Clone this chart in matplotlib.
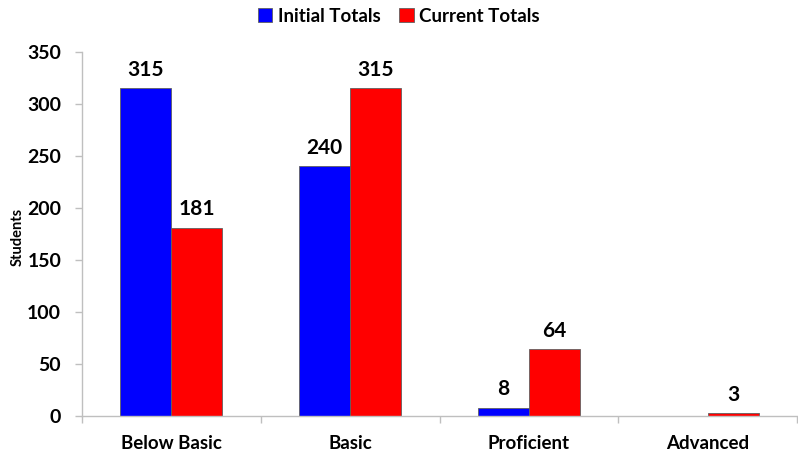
import matplotlib
matplotlib.use("Agg")
import matplotlib.pyplot as plt
import numpy as np

categories = ["Below Basic", "Basic", "Proficient", "Advanced"]
initial_totals = [315, 240, 8, 0]
current_totals = [181, 315, 64, 3]
y_ticks = [0, 50, 100, 150, 200, 250, 300, 350]

plt.rcParams['font.family'] = ['Lato', 'DejaVu Sans']
plt.rcParams['font.weight'] = 'bold'

fig = plt.figure(figsize=(7.98, 4.55), dpi=100)
ax = fig.add_axes([82/798, 1-416/455, 715/798, 364/455])

x = np.arange(len(categories))
w = 0.285
ax.bar(x - w/2, initial_totals, w, color='#0000ff', edgecolor='#606060', linewidth=0.6, label='Initial Totals')
ax.bar(x + w/2, current_totals, w, color='#ff0000', edgecolor='#606060', linewidth=0.6, label='Current Totals')

for xi, v in zip(x, initial_totals):
    if v:
        ax.text(xi - w/2, v + 8, str(v), ha='center', va='bottom', fontsize=15, fontweight='bold')
for xi, v in zip(x, current_totals):
    if v:
        ax.text(xi + w/2, v + 8, str(v), ha='center', va='bottom', fontsize=15, fontweight='bold')

ax.set_xlim(-0.5, len(categories) - 0.5)
ax.set_ylim(0, 350)
ax.set_yticks(y_ticks)
ax.set_yticklabels([str(t) for t in y_ticks], fontsize=14, fontweight='bold')
ax.set_xticks(x)
ax.set_xticklabels(categories, fontsize=13.5, fontweight='bold')
ax.set_xticks(np.arange(-0.5, len(categories)), minor=True)
ax.tick_params(axis='x', which='major', length=0, pad=14)
ax.tick_params(axis='x', which='minor', length=5, color='#bfbfbf', width=1)
ax.tick_params(axis='y', length=5, color='#bfbfbf', width=1, pad=10)

for s in ['top', 'right']:
    ax.spines[s].set_visible(False)
for s in ['left', 'bottom']:
    ax.spines[s].set_color('#bfbfbf')
    ax.spines[s].set_linewidth(1)

fig.text(18/798, 1-237/455, 'Students', rotation=90, ha='center', va='center', fontsize=10.5, fontweight='bold')

leg = fig.legend(loc='upper center', bbox_to_anchor=(0.5, 1.02), ncol=2, frameon=False,
                 fontsize=13.5, handlelength=0.75, handleheight=0.75, handletextpad=0.3, columnspacing=1.0)
for t in leg.get_texts():
    t.set_fontweight('bold')

fig.savefig('out.png', dpi=100)
